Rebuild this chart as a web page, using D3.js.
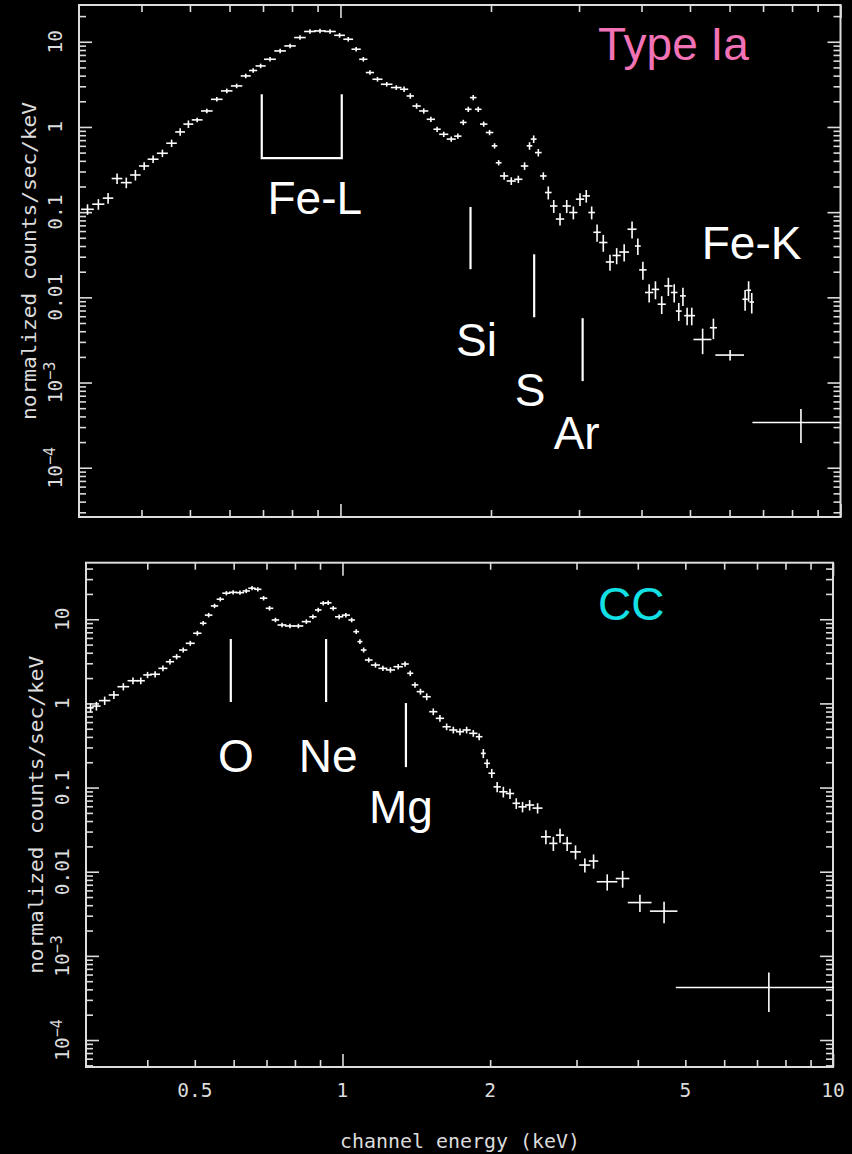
<!DOCTYPE html>
<html>
<head>
<meta charset="utf-8">
<script src="https://cdn.jsdelivr.net/npm/d3@7"></script>
<style>
  html, body { margin: 0; padding: 0; background: #000; }
  svg { display: block; }
</style>
</head>
<body>
<svg id="chart" width="852" height="1154"></svg>
<script>
// ---- Type Ia remnant: grouped spectrum (bin edges in keV, counts/sec/keV, 1-sigma errors)
const iaEdges = [
  0.304, 0.320, 0.336, 0.350, 0.365, 0.381, 0.397, 0.413, 0.431, 0.450,
  0.469, 0.487, 0.506, 0.528, 0.553, 0.579, 0.606, 0.634, 0.659, 0.679,
  0.706, 0.740, 0.775, 0.811, 0.849, 0.889, 0.931, 0.975, 1.017, 1.056,
  1.094, 1.128, 1.163, 1.209, 1.266, 1.320, 1.361, 1.398, 1.442, 1.493,
  1.540, 1.581, 1.637, 1.694, 1.740, 1.781, 1.822, 1.864, 1.908, 1.960,
  2.014, 2.052, 2.092, 2.158, 2.234, 2.303, 2.366, 2.411, 2.458, 2.516,
  2.574, 2.634, 2.706, 2.791, 2.878, 2.967, 3.060, 3.143, 3.216, 3.303,
  3.406, 3.513, 3.622, 3.764, 3.895, 3.971, 4.080, 4.207, 4.323, 4.457,
  4.596, 4.703, 4.794, 4.887, 4.982, 5.100, 5.500, 5.640, 6.390, 6.500,
  6.600, 6.690, 9.980
];
const iaCounts = [
  0.108, 0.124, 0.146, 0.248, 0.222, 0.273, 0.348, 0.418, 0.491, 0.644,
  0.874, 1.08, 1.21, 1.54, 2.11, 2.65, 3.03, 3.97, 4.6, 5.2,
  6.23, 7.8, 8.93, 11.2, 13.2, 13.4, 13.2, 11.9, 10.7, 8.17,
  6.23, 4.35, 3.63, 3.17, 2.90, 2.77, 2.31, 1.76, 1.54, 1.23,
  0.94, 0.82, 0.72, 0.78, 1.13, 1.61, 2.21, 1.61, 1.08, 0.86,
  0.60, 0.38, 0.266, 0.232, 0.243, 0.348, 0.60, 0.72, 0.50, 0.266,
  0.170, 0.118, 0.083, 0.118, 0.099, 0.142, 0.155, 0.099, 0.058, 0.044,
  0.026, 0.031, 0.034, 0.063, 0.040, 0.021, 0.0114, 0.0124, 0.0083, 0.0136,
  0.0114, 0.0069, 0.0104, 0.0061, 0.0061, 0.0032, 0.0044, 0.0021, 0.0095, 0.0121,
  0.0088, 0.00034
];
const iaErrors = [
  0.013, 0.015, 0.018, 0.03, 0.027, 0.033, 0.028, 0.033, 0.039, 0.05,
  0.07, 0.086, 0.048, 0.062, 0.084, 0.11, 0.12, 0.16, 0.18, 0.21,
  0.25, 0.31, 0.36, 0.45, 0.53, 0.54, 0.53, 0.48, 0.43, 0.33,
  0.25, 0.17, 0.15, 0.13, 0.12, 0.14, 0.12, 0.09, 0.077, 0.062,
  0.047, 0.041, 0.036, 0.039, 0.057, 0.08, 0.11, 0.08, 0.054, 0.043,
  0.03, 0.019, 0.021, 0.019, 0.019, 0.028, 0.048, 0.058, 0.04, 0.021,
  0.026, 0.018, 0.012, 0.018, 0.015, 0.021, 0.023, 0.015, 0.012, 0.009,
  0.005, 0.006, 0.007, 0.013, 0.008, 0.0046, 0.0025, 0.0027, 0.0018, 0.003,
  0.0025, 0.0015, 0.0023, 0.0013, 0.0013, 0.001, 0.0011, 0.00025, 0.0024, 0.003,
  0.0022, 0.00014
];

// ---- Core-collapse remnant: grouped spectrum
const ccEdges = [
  0.303, 0.310, 0.320, 0.335, 0.349, 0.366, 0.382, 0.394, 0.407, 0.423,
  0.438, 0.452, 0.466, 0.481, 0.498, 0.514, 0.526, 0.541, 0.556, 0.571,
  0.589, 0.608, 0.628, 0.645, 0.663, 0.681, 0.700, 0.720, 0.740, 0.766,
  0.797, 0.829, 0.859, 0.882, 0.903, 0.924, 0.946, 0.969, 1.000, 1.032,
  1.056, 1.077, 1.094, 1.115, 1.147, 1.188, 1.230, 1.275, 1.323, 1.360,
  1.389, 1.422, 1.462, 1.508, 1.555, 1.605, 1.656, 1.709, 1.763, 1.819,
  1.877, 1.922, 1.952, 1.991, 2.039, 2.095, 2.161, 2.230, 2.292, 2.365,
  2.450, 2.548, 2.649, 2.733, 2.820, 2.922, 3.05, 3.19, 3.31, 3.62,
  3.83, 4.25, 4.80, 10.0
];
const ccCounts = [
  0.89, 0.93, 1.08, 1.26, 1.58, 1.86, 1.86, 2.18, 2.22, 2.61,
  3.13, 3.59, 4.31, 5.18, 6.82, 8.96, 11.2, 14.4, 17.3, 20.4,
  20.9, 20.7, 21.7, 23.4, 22.7, 17.8, 13.5, 9.81, 8.55, 8.32,
  8.32, 9.37, 10.7, 12.9, 15.5, 15.7, 13.5, 10.7, 11.2, 9.81,
  7.12, 5.42, 4.31, 3.28, 2.86, 2.61, 2.50, 2.73, 2.94, 2.28,
  1.66, 1.38, 1.20, 0.797, 0.665, 0.528, 0.483, 0.461, 0.483, 0.441,
  0.402, 0.255, 0.194, 0.148, 0.102, 0.089, 0.085, 0.065, 0.059, 0.062,
  0.057, 0.026, 0.0217, 0.0272, 0.0217, 0.0172, 0.012, 0.0134, 0.0076, 0.0083,
  0.0043, 0.0034, 0.00042
];
const ccErrors = [
  0.09, 0.09, 0.1, 0.11, 0.12, 0.13, 0.13, 0.14, 0.14, 0.15,
  0.16, 0.18, 0.2, 0.24, 0.3, 0.36, 0.45, 0.55, 0.65, 0.75,
  0.75, 0.75, 0.8, 0.85, 0.85, 0.7, 0.55, 0.4, 0.35, 0.33,
  0.33, 0.37, 0.42, 0.5, 0.6, 0.6, 0.55, 0.45, 0.45, 0.4,
  0.3, 0.24, 0.2, 0.15, 0.14, 0.13, 0.13, 0.14, 0.15, 0.12,
  0.09, 0.08, 0.085, 0.056, 0.047, 0.037, 0.034, 0.032, 0.034, 0.031,
  0.028, 0.026, 0.019, 0.015, 0.012, 0.011, 0.01, 0.008, 0.0071, 0.0074,
  0.0068, 0.0044, 0.0037, 0.0046, 0.0037, 0.0029, 0.002, 0.0023, 0.0015, 0.0017,
  0.0009, 0.0009, 0.0002
];

// ---- Axis labelling
const energyRange = [0.3, 10];
const xTickValues = [0.5, 1, 2, 5, 10];
const xTickLabels = ["0.5", "1", "2", "5", "10"];
const yTickValues = [10, 1, 0.1, 0.01, 1e-3, 1e-4];
const yTickLabels = [["10"], ["1"], ["0.1"], ["0.01"], ["10", "\u22123"], ["10", "\u22124"]];
const xTitle = "channel energy (keV)";
const yTitle = "normalized counts/sec/keV";

// ---- Line identifications (energies in keV, marker extent in counts/sec/keV)
const iaLines = [
  { label: "Si", energy: 1.82, hi: 0.115, lo: 0.0214, dx: 6, dy: 87 },
  { label: "S",  energy: 2.44, hi: 0.032, lo: 0.00584, dx: -4, dy: 89 },
  { label: "Ar", energy: 3.05, hi: 0.00569, lo: 0.00104, dx: -6, dy: 68 }
];
const ccLines = [
  { label: "O",  energy: 0.592, hi: 5.83, lo: 1.04, dx: 5, dy: 70 },
  { label: "Ne", energy: 0.926, hi: 5.83, lo: 1.04, dx: 2, dy: 70 },
  { label: "Mg", energy: 1.347, hi: 1.01, lo: 0.175, dx: -5, dy: 56 }
];
const feLBand = { label: "Fe-L", from: 0.696, to: 1.006, hi: 2.42, lo: 0.43 };
const feKLabel = { label: "Fe-K", energy: 6.64, value: 0.028 };

const panels = [
  { name: "Type Ia", nameColor: "#f272b6", box: { x0: 79, x1: 840.5, y0: 5, y1: 517 },
    yDomain: [2.64e-5, 27], edges: iaEdges, counts: iaCounts, errors: iaErrors,
    lines: iaLines, xLabels: false },
  { name: "CC", nameColor: "#12e0e4", box: { x0: 86, x1: 833, y0: 562.7, y1: 1067 },
    yDomain: [4.78e-5, 47], edges: ccEdges, counts: ccCounts, errors: ccErrors,
    lines: ccLines, xLabels: true }
];

const AXIS = "#dcdcdc";
const MONO = "'DejaVu Sans Mono', monospace";
const SANS = "'Liberation Sans', Arial, sans-serif";

const svg = d3.select("#chart");
svg.append("rect").attr("width", 852).attr("height", 1154).attr("fill", "#000");

function minorTicks(lo, hi) {
  const out = [];
  for (let k = Math.floor(Math.log10(lo)); k <= Math.ceil(Math.log10(hi)); k++) {
    for (let d = 2; d <= 9; d++) {
      const v = d * Math.pow(10, k);
      if (v > lo && v < hi) out.push(v);
    }
  }
  return out;
}
function decades(lo, hi) {
  const out = [];
  for (let k = Math.ceil(Math.log10(lo)); k <= Math.floor(Math.log10(hi)); k++) out.push(Math.pow(10, k));
  return out;
}

panels.forEach((p, pi) => {
  const b = p.box;
  const x = d3.scaleLog().domain(energyRange).range([b.x0, b.x1]);
  const y = d3.scaleLog().domain(p.yDomain).range([b.y1, b.y0]);
  const g = svg.append("g").attr("class", "panel-" + pi);

  // inward-pointing ticks on all four sides
  const tickGroup = (axis, vals, len, tr) => {
    g.append("g").attr("transform", tr)
      .call(axis.tickValues(vals).tickSize(len).tickFormat(""))
      .call(s => s.select(".domain").remove())
      .call(s => s.selectAll("line").attr("stroke", AXIS).attr("stroke-width", 1.6));
  };
  const yMaj = decades(p.yDomain[0], p.yDomain[1]);
  const yMin = minorTicks(p.yDomain[0], p.yDomain[1]);
  const xMaj = [1, 10];
  const xMin = minorTicks(energyRange[0] * 1.01, energyRange[1]);
  tickGroup(d3.axisRight(y), yMaj, 13, `translate(${b.x0},0)`);
  tickGroup(d3.axisRight(y), yMin, 7, `translate(${b.x0},0)`);
  tickGroup(d3.axisLeft(y), yMaj, 13, `translate(${b.x1},0)`);
  tickGroup(d3.axisLeft(y), yMin, 7, `translate(${b.x1},0)`);
  tickGroup(d3.axisTop(x), xMaj, 13, `translate(0,${b.y1})`);
  tickGroup(d3.axisTop(x), xMin, 7, `translate(0,${b.y1})`);
  tickGroup(d3.axisBottom(x), xMaj, 13, `translate(0,${b.y0})`);
  tickGroup(d3.axisBottom(x), xMin, 7, `translate(0,${b.y0})`);

  // frame
  g.append("rect")
    .attr("x", b.x0).attr("y", b.y0)
    .attr("width", b.x1 - b.x0).attr("height", b.y1 - b.y0)
    .attr("fill", "none").attr("stroke", AXIS).attr("stroke-width", 2);

  // y tick labels, rotated
  yTickValues.forEach((v, i) => {
    const parts = yTickLabels[i];
    const t = g.append("text")
      .attr("transform", `translate(${b.x0 - 17},${y(v)}) rotate(-90)`)
      .attr("text-anchor", "middle")
      .attr("fill", AXIS).attr("font-family", MONO).attr("font-size", 19.5);
    t.append("tspan").text(parts[0]);
    if (parts[1]) t.append("tspan").attr("dy", -7).attr("font-size", 15).text(parts[1]);
  });

  // y axis title
  g.append("text")
    .attr("transform", `translate(${b.x0 - 43},${(b.y0 + b.y1) / 2}) rotate(-90)`)
    .attr("text-anchor", "middle")
    .attr("fill", AXIS).attr("font-family", MONO).attr("font-size", 20)
    .attr("textLength", 318).attr("lengthAdjust", "spacingAndGlyphs")
    .text(yTitle);

  if (p.xLabels) {
    xTickValues.forEach((v, i) => {
      g.append("text").attr("x", x(v)).attr("y", b.y1 + 30)
        .attr("text-anchor", "middle")
        .attr("fill", AXIS).attr("font-family", MONO).attr("font-size", 19.5)
        .text(xTickLabels[i]);
    });
    g.append("text").attr("x", 460).attr("y", b.y1 + 81)
      .attr("text-anchor", "middle")
      .attr("fill", AXIS).attr("font-family", MONO).attr("font-size", 20)
      .attr("textLength", 240).attr("lengthAdjust", "spacingAndGlyphs")
      .text(xTitle);
  }

  // spectrum: one cross per bin (energy width x count error)
  const bins = p.counts.map((c, i) => ({
    lo: p.edges[i], hi: p.edges[i + 1], c, e: p.errors[i]
  }));
  const data = g.append("g").attr("stroke", "#fff").attr("stroke-width", 1.6)
    .attr("stroke-linecap", "square");
  data.selectAll("line.h").data(bins).join("line").attr("class", "h")
    .attr("x1", d => x(d.lo)).attr("x2", d => x(d.hi))
    .attr("y1", d => y(d.c)).attr("y2", d => y(d.c));
  data.selectAll("line.v").data(bins).join("line").attr("class", "v")
    .attr("x1", d => x((d.lo + d.hi) / 2)).attr("x2", d => x((d.lo + d.hi) / 2))
    .attr("y1", d => y(Math.max(d.c - d.e, p.yDomain[0])))
    .attr("y2", d => y(d.c + d.e));

  // line identification markers
  const ann = g.append("g");
  p.lines.forEach(l => {
    ann.append("line")
      .attr("x1", x(l.energy)).attr("x2", x(l.energy))
      .attr("y1", y(l.hi)).attr("y2", y(l.lo))
      .attr("stroke", "#fff").attr("stroke-width", 2.2);
    ann.append("text")
      .attr("x", x(l.energy) + l.dx).attr("y", y(l.lo) + l.dy)
      .attr("text-anchor", "middle").attr("fill", "#fff")
      .attr("font-family", SANS).attr("font-size", 46)
      .text(l.label);
  });

  // panel name
  g.append("text")
    .attr("x", b.x0 + (pi === 0 ? 519 : 512)).attr("y", b.y0 + (pi === 0 ? 55 : 57))
    .attr("fill", p.nameColor).attr("font-family", SANS).attr("font-size", 46)
    .text(p.name);

  if (pi === 0) {
    const xa = x(feLBand.from), xb = x(feLBand.to);
    ann.append("path")
      .attr("d", `M${xa},${y(feLBand.hi)}V${y(feLBand.lo)}H${xb}V${y(feLBand.hi)}`)
      .attr("fill", "none").attr("stroke", "#fff").attr("stroke-width", 2.2);
    ann.append("text")
      .attr("x", (xa + xb) / 2 + 13).attr("y", y(feLBand.lo) + 56)
      .attr("text-anchor", "middle").attr("fill", "#fff")
      .attr("font-family", SANS).attr("font-size", 46)
      .text(feLBand.label);
    ann.append("text")
      .attr("x", x(feKLabel.energy)).attr("y", y(feKLabel.value))
      .attr("text-anchor", "middle").attr("fill", "#fff")
      .attr("font-family", SANS).attr("font-size", 46)
      .text(feKLabel.label);
  }
});
</script>
</body>
</html>
